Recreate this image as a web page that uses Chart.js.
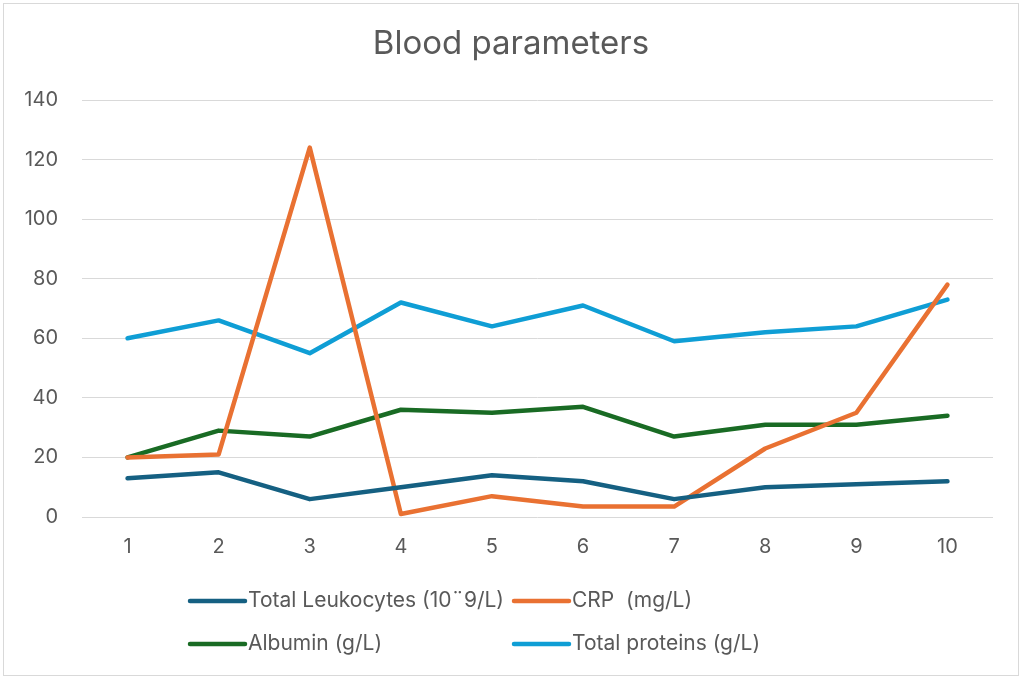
<!DOCTYPE html>
<html>
<head>
<meta charset="utf-8">
<title>Blood parameters</title>
<script src="https://cdn.jsdelivr.net/npm/chart.js@4"></script>
<style>
  html, body { margin: 0; padding: 0; background: #ffffff; }
  #caja { position: relative; width: 1022px; height: 679px; }
</style>
</head>
<body>
<div id="caja"><canvas id="graficoSangre" width="1022" height="679"></canvas></div>
<script>
// Datos
const dias = ['1', '2', '3', '4', '5', '6', '7', '8', '9', '10'];
const leucocitos = [13, 15, 6, 10, 14, 12, 6, 10, 11, 12];
const pcr = [20, 21, 124, 1, 7, 3.5, 3.5, 23, 35, 78];
const albumina = [20, 29, 27, 36, 35, 37, 27, 31, 31, 34];
const proteinasTotales = [60, 66, 55, 72, 64, 71, 59, 62, 64, 73];
const nombresSeries = ['Total Leukocytes (10\u00a89/L)', 'CRP  (mg/L)', 'Albumin (g/L)', 'Total proteins (g/L)'];
const coloresSeries = ['#156082', '#E97132', '#196B24', '#0F9ED5'];
const marcasY = [0, 20, 40, 60, 80, 100, 120, 140];
const titulo = 'Blood parameters';

const fuente = "Inter, 'Open Sans', sans-serif";
const grisTexto = '#595959';

// Título centrado en todo el lienzo y leyenda en dos filas, como en Excel
const leyendaExcel = {
    id: 'leyendaExcel',
    afterDraw(chart) {
        const c = chart.ctx;
        c.save();
        // borde del gráfico
        c.strokeStyle = '#d9d9d9';
        c.lineWidth = 1;
        c.strokeRect(3.5, 3.5, chart.width - 7, chart.height - 7);

        // título
        c.fillStyle = grisTexto;
        c.font = '33px ' + fuente;
        c.textAlign = 'center';
        c.textBaseline = 'middle';
        c.fillText(titulo, chart.width / 2, 44);

        c.font = '21px ' + fuente;
        c.textAlign = 'left';
        const filas = [601, 644];
        const largoLinea = 57;
        const x0 = 188;
        const ancho0 = Math.max(c.measureText(nombresSeries[0]).width, c.measureText(nombresSeries[2]).width);
        const columnas = [x0, x0 + largoLinea + 3 + ancho0 + 8];
        chart.data.datasets.forEach((ds, i) => {
            const x = columnas[i % 2];
            const y = filas[Math.floor(i / 2)];
            c.strokeStyle = ds.borderColor;
            c.lineWidth = 4.5;
            c.lineCap = 'round';
            c.beginPath();
            c.moveTo(x + 2, y);
            c.lineTo(x + largoLinea, y);
            c.stroke();
            c.fillStyle = grisTexto;
            c.fillText(ds.label, x + largoLinea + 3, y);
        });
        c.restore();
    }
};

const series = [leucocitos, pcr, albumina, proteinasTotales];

const ctx = document.getElementById('graficoSangre').getContext('2d');
const graficoSangre = new Chart(ctx, {
    type: 'line',
    data: {
        labels: dias,
        datasets: series.map((valores, i) => ({
            label: nombresSeries[i],
            data: valores,
            borderColor: coloresSeries[i],
            backgroundColor: coloresSeries[i],
            borderWidth: 4.5,
            borderCapStyle: 'round',
            borderJoinStyle: 'round',
            pointRadius: 0,
            tension: 0,
            fill: false
        }))
    },
    options: {
        responsive: false,
        animation: false,
        layout: { padding: { top: 100, right: 29, bottom: 102, left: 0 } },
        plugins: {
            legend: { display: false },
            tooltip: { enabled: false },
            title: { display: false }
        },
        scales: {
            x: {
                offset: true,
                grid: { display: false, drawTicks: false },
                border: { display: false },
                ticks: { color: grisTexto, font: { family: fuente, size: 20 }, padding: 18, maxRotation: 0 },
                afterFit(escala) { escala.height = 60; }
            },
            y: {
                min: 0,
                max: 140,
                afterBuildTicks(escala) { escala.ticks = marcasY.map(v => ({ value: v })); },
                grid: { color: '#d9d9d9', lineWidth: 1, drawTicks: false },
                border: { display: false },
                ticks: { color: grisTexto, font: { family: fuente, size: 20 }, padding: 24 },
                afterFit(escala) { escala.width = 82; }
            }
        }
    },
    plugins: [leyendaExcel]
});
</script>
</body>
</html>
